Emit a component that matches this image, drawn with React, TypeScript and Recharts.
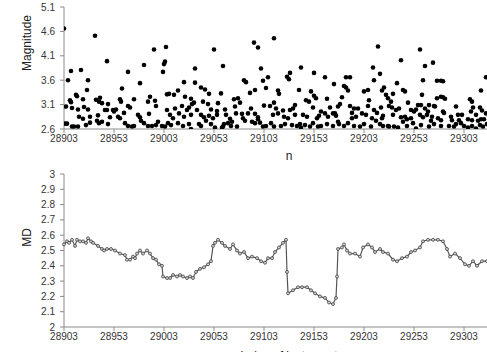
import React from 'react';
import { ScatterChart, Scatter, LineChart, Line, XAxis, YAxis } from 'recharts';

// event index ticks shared by both panels
const nTicks = [28903, 28953, 29003, 29053, 29103, 29153, 29203, 29253, 29303];
const magTicks = [2.6, 3.1, 3.6, 4.1, 4.6, 5.1];
const mdTicks = [2, 2.1, 2.2, 2.3, 2.4, 2.5, 2.6, 2.7, 2.8, 2.9, 3];

// [n, magnitude]
const magnitudePoints: [number, number][] = [
  [28903, 4.66], [28904, 2.71], [28905, 3.06], [28906, 2.71], [28907, 3.6], [28909, 3.19], [28910, 3.79], [28910, 3.15],
  [28911, 3.03], [28911, 2.65], [28913, 2.65], [28915, 3.3], [28916, 3.27], [28917, 3.0], [28917, 2.65], [28918, 2.85],
  [28920, 3.81], [28922, 3.21], [28922, 2.81], [28923, 3.05], [28925, 2.68], [28926, 3.4], [28927, 3.6], [28927, 3.0],
  [28929, 2.85], [28929, 2.73], [28934, 4.51], [28935, 3.2], [28936, 2.77], [28937, 2.88], [28938, 3.16], [28938, 2.72],
  [28939, 3.24], [28941, 3.13], [28941, 2.75], [28944, 2.99], [28946, 3.99], [28946, 2.99], [28947, 3.11], [28947, 2.7],
  [28949, 2.84], [28952, 2.99],
  [28953, 2.96], [28955, 3.0], [28957, 2.85], [28959, 3.21], [28959, 2.82], [28960, 3.16], [28961, 3.43], [28963, 2.93],
  [28964, 2.72], [28967, 3.77], [28967, 3.07], [28967, 2.66], [28969, 3.04], [28971, 2.65], [28973, 3.21], [28973, 2.66],
  [28977, 2.89], [28979, 3.54], [28979, 2.84], [28980, 2.77], [28983, 3.91], [28983, 2.72], [28987, 3.16], [28987, 2.66],
  [28988, 2.91], [28989, 3.26], [28991, 2.66], [28993, 4.23], [28994, 3.18], [28995, 3.07], [28995, 2.68], [28997, 2.75],
  [29001, 2.66], [29002, 3.77], [29003, 3.93], [29004, 3.98], [29004, 2.65], [29005, 4.28], [29006, 3.31], [29006, 2.99],
  [29007, 2.72],
  [29008, 3.32], [29009, 2.89], [29010, 2.68], [29012, 2.82], [29013, 3.3], [29014, 3.02], [29017, 3.39], [29017, 2.72],
  [29018, 2.92], [29021, 3.07], [29022, 2.66], [29023, 3.56], [29023, 2.85], [29024, 3.26], [29026, 2.99], [29028, 3.04],
  [29028, 2.7], [29030, 3.22], [29030, 2.89], [29030, 2.6], [29031, 3.11], [29033, 3.14], [29034, 3.84], [29034, 3.55],
  [29036, 2.99], [29038, 2.7], [29040, 3.45], [29040, 2.89], [29040, 2.66], [29042, 3.16], [29043, 2.84], [29044, 3.41],
  [29045, 2.77], [29047, 3.11], [29048, 3.32], [29048, 2.87], [29050, 3.0], [29050, 2.7], [29052, 2.82], [29053, 4.23],
  [29054, 2.63], [29056, 2.97], [29056, 2.89], [29057, 3.13], [29060, 3.33], [29061, 2.63], [29062, 3.89], [29063, 2.7],
  [29064, 3.0],
  [29062, 2.65], [29065, 2.89], [29067, 2.72], [29069, 2.81], [29070, 2.66], [29071, 2.75], [29073, 3.21], [29074, 3.06],
  [29075, 2.92], [29076, 2.65], [29077, 3.23], [29079, 3.14], [29081, 2.91], [29082, 2.82], [29083, 3.6], [29084, 2.77],
  [29085, 3.56], [29087, 2.92], [29089, 3.34], [29090, 3.02], [29091, 2.75], [29093, 4.37], [29094, 3.4], [29094, 2.91],
  [29094, 2.72], [29097, 4.27], [29097, 2.84], [29097, 2.8], [29099, 2.73], [29100, 3.84], [29102, 3.59], [29102, 2.65],
  [29103, 3.08], [29105, 3.44], [29105, 2.66], [29107, 3.66], [29109, 3.07], [29110, 2.72], [29112, 2.89], [29113, 4.46],
  [29113, 3.14], [29113, 2.65], [29115, 3.02], [29117, 3.39], [29117, 2.92], [29118, 3.32],
  [29120, 2.66], [29122, 2.98], [29123, 2.85], [29124, 2.7], [29126, 3.67], [29127, 2.82], [29128, 3.62], [29129, 3.75],
  [29129, 2.99], [29131, 2.68], [29132, 3.02], [29134, 3.09], [29134, 2.89], [29136, 2.66], [29138, 3.4], [29139, 2.7],
  [29140, 3.86], [29140, 2.63], [29142, 2.89], [29144, 2.68], [29145, 3.19], [29146, 2.85], [29148, 3.16], [29149, 2.65],
  [29150, 3.37], [29152, 3.04], [29152, 2.72], [29153, 3.75], [29153, 3.28], [29155, 3.23], [29156, 2.82], [29157, 2.65],
  [29158, 2.87], [29160, 2.96], [29160, 2.66], [29164, 3.66], [29164, 2.92], [29166, 3.22], [29166, 2.7], [29167, 2.85],
  [29169, 3.04], [29172, 2.92], [29172, 2.66], [29173, 3.52],
  [29174, 2.92], [29175, 2.87], [29177, 3.06], [29177, 2.75], [29178, 2.7], [29179, 3.11], [29181, 3.25], [29183, 3.48],
  [29183, 2.66], [29185, 3.66], [29185, 3.45], [29187, 3.39], [29187, 2.72], [29189, 3.66], [29189, 3.07], [29191, 2.93],
  [29191, 2.82], [29193, 3.02], [29193, 2.66], [29195, 2.85], [29197, 3.02], [29199, 2.65], [29201, 2.92], [29203, 3.37],
  [29203, 2.7], [29205, 2.89], [29207, 3.4], [29207, 3.07], [29208, 3.19], [29210, 2.65], [29211, 2.82], [29212, 3.86],
  [29213, 3.6], [29213, 2.99], [29215, 2.77], [29216, 2.93], [29217, 4.29], [29219, 3.73], [29219, 2.7], [29220, 3.04],
  [29221, 3.39], [29221, 2.82], [29222, 2.87], [29222, 2.66], [29223, 3.45], [29225, 3.3], [29227, 3.23], [29227, 2.66],
  [29228, 3.07], [29228, 2.65], [29230, 3.16], [29231, 3.04], [29232, 3.32], [29232, 2.89], [29233, 2.65], [29235, 2.99],
  [29236, 3.54], [29237, 2.63], [29238, 3.02], [29240, 4.01], [29240, 2.84], [29242, 3.4], [29242, 2.75], [29244, 3.37],
  [29244, 2.85], [29246, 2.8], [29246, 2.66], [29247, 3.14], [29250, 2.99], [29250, 2.82], [29252, 2.72], [29253, 2.96],
  [29255, 3.0], [29255, 2.61], [29257, 3.09], [29259, 4.23], [29259, 2.89], [29260, 3.09], [29260, 2.68], [29261, 3.3],
  [29262, 3.6], [29262, 2.84], [29264, 3.89], [29264, 3.02], [29266, 2.89], [29267, 2.96], [29268, 3.09], [29268, 2.65],
  [29270, 2.77], [29271, 2.85], [29272, 3.96], [29273, 2.7], [29273, 3.07], [29274, 3.06], [29276, 3.59], [29276, 3.23],
  [29277, 2.82], [29280, 3.59], [29280, 3.26], [29280, 2.78], [29280, 2.66], [29282, 2.96],
  [29282, 3.58], [29282, 3.25], [29284, 3.22], [29283, 2.93], [29288, 2.66], [29290, 2.85], [29291, 2.78], [29293, 2.65],
  [29295, 3.06], [29295, 2.7], [29297, 2.89], [29298, 2.78], [29300, 2.72], [29301, 2.89], [29303, 2.66], [29307, 2.8],
  [29307, 2.63], [29309, 3.21], [29310, 2.96], [29311, 3.16], [29311, 2.78], [29311, 2.66], [29312, 3.04], [29315, 2.89],
  [29315, 2.61], [29317, 2.77], [29319, 3.04], [29319, 2.68], [29320, 3.39], [29320, 2.8], [29321, 2.98], [29322, 2.65],
  [29323, 2.8], [29325, 3.66], [29325, 2.92], [29326, 2.7],
];

// MD curve, bottom panel
const mdN = [
  28903, 28906, 28908, 28911, 28914, 28916, 28919, 28922, 28925, 28927, 28930, 28932, 28937, 28941, 28943, 28946,
  28950, 28954, 28959, 28964, 28966, 28969, 28972, 28974, 28976, 28979, 28982, 28986, 28989, 28992, 28995, 28998,
  29001, 29002, 29006, 29009, 29012, 29016, 29019, 29022, 29026, 29029, 29032, 29035, 29039, 29043, 29047, 29050,
  29052, 29054, 29057, 29061, 29064, 29069, 29072, 29076, 29079, 29083, 29087, 29091, 29096, 29100, 29104, 29107,
  29111, 29114, 29118, 29122, 29125, 29126, 29127, 29132, 29137, 29141, 29146, 29150, 29154, 29159, 29164, 29168,
  29172, 29175, 29176, 29177, 29181, 29183, 29186, 29189, 29194, 29199, 29202, 29207, 29211, 29214, 29219, 29222,
  29227, 29232, 29236, 29241, 29246, 29250, 29254, 29259, 29262, 29267, 29272, 29277, 29282, 29286, 29289, 29294,
  29299, 29304, 29308, 29312, 29316, 29321, 29326,
];
const mdValue = [
  2.54, 2.56, 2.55, 2.57, 2.53, 2.57, 2.56, 2.56, 2.55, 2.58, 2.56, 2.55, 2.53, 2.51, 2.5, 2.51,
  2.51, 2.5, 2.48, 2.47, 2.44, 2.44, 2.46, 2.45, 2.48, 2.5, 2.48, 2.5, 2.48, 2.45, 2.44, 2.41,
  2.4, 2.33, 2.32, 2.32, 2.34, 2.33, 2.34, 2.33, 2.32, 2.33, 2.32, 2.36, 2.38, 2.39, 2.41, 2.43,
  2.53, 2.55, 2.57, 2.55, 2.53, 2.51, 2.54, 2.5, 2.48, 2.49, 2.45, 2.46, 2.45, 2.43, 2.42, 2.45,
  2.45, 2.49, 2.52, 2.55, 2.57, 2.36, 2.22, 2.24, 2.26, 2.26, 2.26, 2.24, 2.22, 2.2, 2.19, 2.16,
  2.15, 2.19, 2.33, 2.51, 2.52, 2.54, 2.5, 2.48, 2.48, 2.46, 2.52, 2.54, 2.52, 2.49, 2.51, 2.49,
  2.48, 2.44, 2.43, 2.45, 2.46, 2.49, 2.5, 2.52, 2.56, 2.57, 2.57, 2.57, 2.56, 2.51, 2.46, 2.48,
  2.45, 2.41, 2.4, 2.43, 2.4, 2.43, 2.43,
];

const scatterData = magnitudePoints.map(([n, m]) => ({ n, mag: m }));
const mdData = mdN.map((n, i) => ({ n, md: mdValue[i] }));

const axisColor = '#8a8a8a';
const tickStyle = { fill: '#333', fontSize: 10 };
const fmtOne = (v: number) => v.toFixed(1);
const fmtMd = (v: number) => String(parseFloat(v.toFixed(1)));

const Dot = (props: any) => <circle cx={props.cx} cy={props.cy} r={2.3} fill="#000" />;

const xTitle = (text: string, dy: number) => (props: any) => {
  const vb = props.viewBox;
  return (
    <text x={vb.x + vb.width / 2} y={vb.y + dy} textAnchor="middle" fontSize={12} fill="#222">
      {text}
    </text>
  );
};

const yTitle = (text: string, shift: number) => (props: any) => {
  const vb = props.viewBox;
  const cx = vb.x + 27;
  const cy = vb.y + vb.height / 2 - shift;
  return (
    <text
      x={cx}
      y={cy}
      transform={`rotate(-90 ${cx} ${cy})`}
      textAnchor="middle"
      dominantBaseline="central"
      fontSize={12}
      fill="#222"
    >
      {text}
    </text>
  );
};

const App: React.FC = () => {
  return (
    <div
      style={{
        position: 'absolute',
        left: 0,
        top: 0,
        width: 487,
        height: 352,
        overflow: 'hidden',
        background: '#fff',
        fontFamily: '"Liberation Sans", Arial, sans-serif',
      }}
    >
      <div style={{ position: 'absolute', left: 0, top: 0 }}>
        <ScatterChart width={514} height={170} margin={{ top: 7, right: 0, bottom: 0, left: 0 }}>
          <XAxis
            type="number"
            dataKey="n"
            domain={[28903, 29353]}
            ticks={nTicks}
            interval={0}
            height={41}
            tickSize={4}
            tickMargin={2}
            stroke={axisColor}
            tick={tickStyle}
            allowDataOverflow
            label={{ content: xTitle('n', 31) }}
          />
          <YAxis
            type="number"
            dataKey="mag"
            domain={[2.6, 5.1]}
            ticks={magTicks}
            interval={0}
            width={64}
            tickSize={4}
            tickMargin={5}
            stroke={axisColor}
            tick={tickStyle}
            tickFormatter={fmtOne}
            allowDataOverflow
            label={{ content: yTitle('Magnitude', 25) }}
          />
          <Scatter data={scatterData} fill="#000" shape={Dot} isAnimationActive={false} />
        </ScatterChart>
      </div>
      <div style={{ position: 'absolute', left: 0, top: 160 }}>
        <LineChart width={514} height={200} data={mdData} margin={{ top: 14, right: 0, bottom: 0, left: 0 }}>
          <XAxis
            type="number"
            dataKey="n"
            domain={[28903, 29353]}
            ticks={nTicks}
            interval={0}
            height={33}
            tickSize={4}
            tickMargin={2}
            stroke={axisColor}
            tick={tickStyle}
            label={{ content: xTitle('Index of last event', 33) }}
          />
          <YAxis
            type="number"
            domain={[2, 3]}
            ticks={mdTicks}
            interval={0}
            width={64}
            tickSize={4}
            tickMargin={5}
            stroke={axisColor}
            tick={tickStyle}
            tickFormatter={fmtMd}
            label={{ content: yTitle('MD', 13) }}
          />
          <Line
            type="linear"
            dataKey="md"
            stroke="#555"
            strokeWidth={1.2}
            dot={{ r: 1.5, fill: '#cfcfcf', stroke: '#333', strokeWidth: 0.7 }}
            isAnimationActive={false}
          />
        </LineChart>
      </div>
    </div>
  );
};

export default App;
